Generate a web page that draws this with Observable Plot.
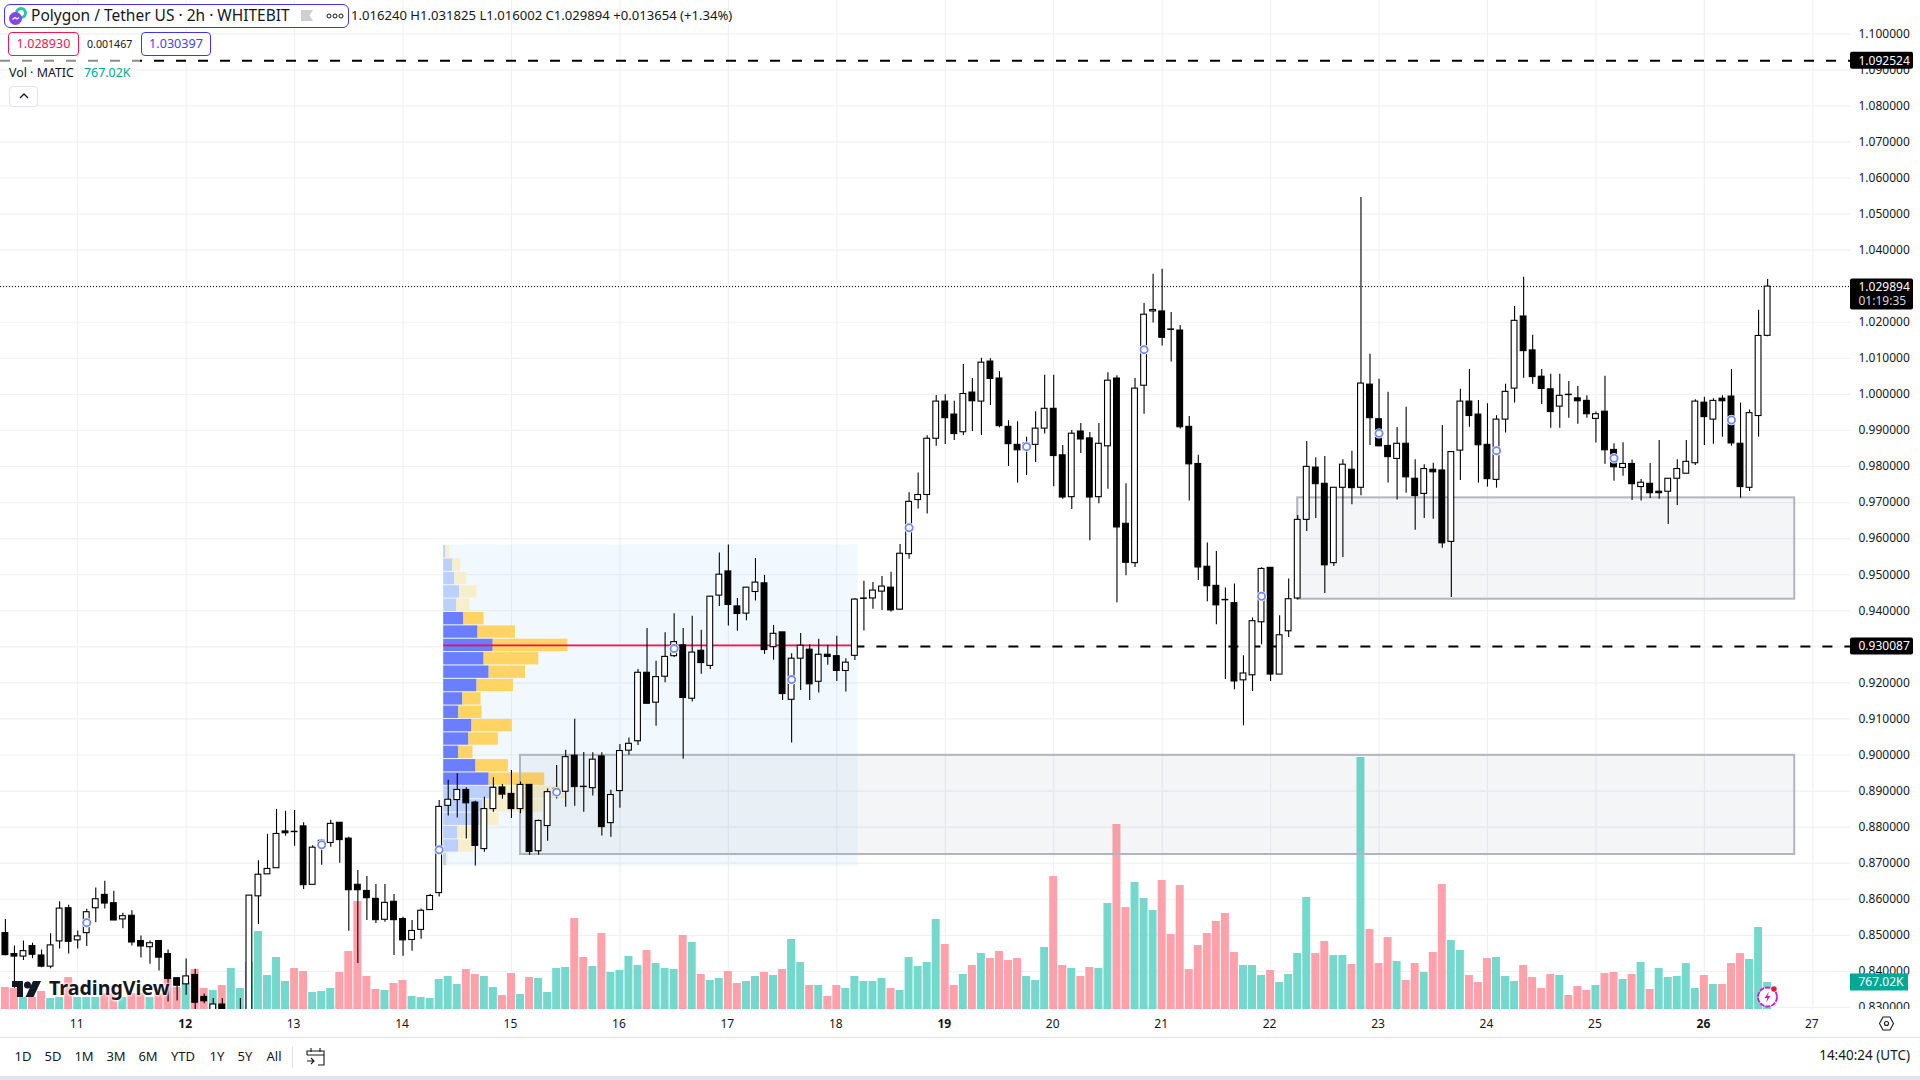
<!DOCTYPE html>
<html><head><meta charset="utf-8">
<script src="https://cdn.jsdelivr.net/npm/d3@7"></script>
<script src="https://cdn.jsdelivr.net/npm/@observablehq/plot@0.6"></script>
<style>
html,body{margin:0;padding:0;background:#fff;overflow:hidden;width:1920px;height:1080px;font-family:"Noto Sans",sans-serif;color:#131722}
#chart{position:absolute;left:0;top:0}
.o{position:absolute;white-space:nowrap;line-height:1}
.b{position:absolute;box-sizing:border-box;border-radius:4px;text-align:center}
</style></head><body>
<div id="chart"></div>
<script>
const highs=[.8544,.8470,.8484,.8478,.8459,.8504,.8593,.8583,.8512,.8572,
.8631,.8650,.8622,.8561,.8568,.8498,.8484,.8484,.8459,.8381,
.8434,.8406,.8337,.8325,.8325,.8260,.8325,.8610,.8707,.8780,
.8849,.8844,.8846,.8812,.8748,.8765,.8819,.8812,.8772,.8680,
.8663,.8641,.8641,.8613,.8550,.8541,.8573,.8613,.8874,.8930,
.8948,.8909,.8872,.8883,.8937,.8918,.8957,.8925,.8918,.8820,
.8906,.8971,.9013,.9099,.9007,.9006,.9006,.8902,.9029,.9047,
.9237,.9351,.9260,.9339,.9392,.9351,.9385,.9346,.9440,.9560,
.9582,.9434,.9465,.9545,.9498,.9359,.9340,.9281,.9337,.9306,
.9321,.9304,.9329,.9267,.9434,.9482,.9478,.9495,.9507,.9584,
.9727,.9782,.9885,.9997,.9999,.9981,1.0083,1.0044,1.0100,1.0099,
1.0063,.9927,.9924,.9881,.9952,1.0053,1.0053,.9858,.9900,.9919,
.9894,.9919,1.0060,1.0052,.9752,1.0044,1.0252,1.0333,1.0347,1.0227,
1.0191,.9939,.9831,.9588,.9564,.9463,.9474,.9275,.9380,.9519,
.9519,.9386,.9488,.9664,.9869,.9824,.9828,.9741,.9819,.9842,
1.0546,1.0111,1.0042,1.0006,.9908,.9964,.9819,.9805,.9809,.9914,
.9840,1.0014,1.0069,.9983,.9974,.9941,1.0028,1.0244,1.0325,1.0164,
1.0069,1.0056,1.0056,1.0036,1.0022,.9996,.9951,1.0050,.9863,.9866,
.9818,.9764,.9808,.9872,.9766,.9819,.9872,.9985,.9992,.9988,
.9996,1.0069,.9976,.9957,1.0233,1.031825];
const bodyTops=[.8506,.8448,.8456,.8470,.8444,.8472,.8574,.8575,.8497,.8564,
.8600,.8612,.8589,.8553,.8554,.8484,.8478,.8484,.8448,.8381,
.8386,.8390,.8329,.8308,.8308,.8240,.8260,.8610,.8668,.8684,
.8781,.8788,.8787,.8802,.8743,.8762,.8809,.8812,.8768,.8640,
.8623,.8601,.8590,.8593,.8545,.8512,.8568,.8609,.8856,.8876,
.8903,.8903,.8868,.8850,.8909,.8910,.8892,.8917,.8917,.8817,
.8897,.8906,.8994,.8998,.8912,.8987,.8996,.8889,.9011,.9031,
.9228,.9228,.9216,.9272,.9313,.9304,.9284,.9289,.9439,.9500,
.9509,.9412,.9464,.9478,.9476,.9336,.9340,.9267,.9303,.9292,
.9278,.9278,.9274,.9256,.9431,.9434,.9456,.9467,.9464,.9558,
.9702,.9721,.9877,.9980,.9980,.9944,1.0001,1.0005,1.0088,1.0091,
1.0044,.9910,.9860,.9864,.9905,.9960,.9960,.9831,.9891,.9897,
.9878,.9863,1.0038,1.0044,.9641,1.0016,1.0221,1.0234,1.0230,1.0180,
1.0177,.9910,.9807,.9522,.9469,.9430,.9421,.9226,.9371,.9516,
.9519,.9332,.9432,.9652,.9799,.9797,.9752,.9741,.9805,.9791,
1.0030,1.0027,.9931,.9857,.9863,.9863,.9766,.9793,.9791,.9789,
.9840,.9980,.9980,.9944,.9860,.9930,1.0007,1.0204,1.0216,1.0122,
1.0049,1.0014,.9996,.9999,.9989,.9982,.9945,.9952,.9846,.9807,
.9807,.9755,.9752,.9730,.9766,.9793,.9813,.9980,.9977,.9982,
.9988,.9994,.9863,.9948,1.0162,1.029894];
const bodyBottoms=[.8445,.8441,.8441,.8446,.8413,.8413,.8483,.8482,.8486,.8506,
.8575,.8588,.8541,.8544,.8480,.8469,.8467,.8438,.8379,.8360,
.8364,.8313,.8317,.8270,.8260,.8210,.8230,.8260,.8608,.8669,
.8686,.8783,.8786,.8639,.8640,.8742,.8756,.8764,.8625,.8625,
.8603,.8542,.8543,.8542,.8486,.8487,.8515,.8570,.8617,.8859,
.8875,.8866,.8748,.8739,.8850,.8890,.8850,.8850,.8731,.8733,
.8803,.8887,.8898,.8911,.8911,.8908,.8800,.8811,.8900,.9012,
.9038,.9142,.9145,.9217,.9274,.9158,.9156,.9255,.9247,.9442,
.9416,.9391,.9392,.9452,.9291,.9299,.9169,.9153,.9267,.9196,
.9203,.9272,.9233,.9233,.9275,.9433,.9434,.9453,.9401,.9403,
.9557,.9707,.9721,.9877,.9934,.9890,.9895,.9981,.9980,1.0043,
.9912,.9862,.9845,.9845,.9860,.9905,.9829,.9714,.9715,.9875,
.9714,.9715,.9856,.9631,.9533,.9532,1.0024,1.0230,1.0157,1.0179,
.9909,.9806,.9520,.9468,.9415,.9429,.9204,.9207,.9221,.9368,
.9223,.9223,.9343,.9434,.9652,.9751,.9526,.9532,.9741,.9740,
.9741,.9934,.9856,.9826,.9821,.9770,.9718,.9724,.9784,.9587,
.9591,.9844,.9940,.9859,.9765,.9763,.9930,1.0016,1.0120,1.0048,
1.0015,.9951,.9966,.9998,.9981,.9945,.9932,.9845,.9798,.9796,
.9751,.9743,.9726,.9726,.9730,.9766,.9780,.9809,.9937,.9930,
.9981,.9864,.9743,.9741,.9940,1.016240];
const lows=[.8443,.8353,.8430,.8435,.8410,.8407,.8462,.8448,.8462,.8469,
.8535,.8573,.8541,.8518,.8470,.8437,.8420,.8401,.8315,.8318,
.8334,.8285,.8310,.8250,.8240,.8200,.8220,.8240,.8530,.8669,
.8686,.8775,.8747,.8627,.8640,.8694,.8744,.8700,.8511,.8422,
.8541,.8533,.8536,.8444,.8442,.8456,.8489,.8570,.8606,.8831,
.8825,.8767,.8692,.8730,.8841,.8877,.8824,.8837,.8722,.8722,
.8761,.8878,.8855,.8858,.8841,.8886,.8775,.8772,.8852,.8999,
.9026,.9142,.9080,.9200,.9270,.8988,.9147,.9224,.9237,.9412,
.9358,.9343,.9372,.9427,.9279,.9263,.9151,.9033,.9179,.9151,
.9172,.9249,.9204,.9175,.9262,.9344,.9404,.9401,.9396,.9403,
.9543,.9682,.9668,.9856,.9861,.9872,.9886,.9897,.9886,.9969,
.9907,.9800,.9754,.9775,.9811,.9890,.9744,.9709,.9681,.9836,
.9594,.9697,.9737,.9422,.9497,.9520,.9945,1.0198,1.0134,1.0090,
.9904,.9704,.9484,.9425,.9361,.9209,.9181,.9081,.9176,.9306,
.9204,.9223,.9326,.9430,.9620,.9656,.9448,.9523,.9548,.9694,
.9719,.9858,.9855,.9754,.9707,.9726,.9623,.9656,.9654,.9573,
.9437,.9761,.9909,.9754,.9743,.9740,.9893,.9976,1.0045,1.0028,
.9972,.9906,.9906,.9934,.9917,.9934,.9865,.9806,.9759,.9773,
.9706,.9704,.9711,.9709,.9639,.9692,.9779,.9803,.9858,.9862,
.9881,.9856,.9712,.9731,.9881,1.016002];
const rising=[0,0,1,0,0,1,1,0,1,1,
1,0,0,1,0,0,1,0,0,0,
1,0,0,1,0,0,1,1,1,1,
1,0,0,0,1,1,1,0,0,0,
0,0,1,0,0,1,1,1,1,1,
1,0,0,1,1,0,0,1,0,1,
1,1,1,0,0,1,0,1,1,1,
1,0,1,1,1,0,1,0,1,1,
0,0,1,1,0,1,0,1,1,0,
1,0,0,1,1,0,1,1,0,1,
1,1,1,1,0,0,1,0,1,0,
0,0,0,1,1,1,0,0,1,0,
0,1,1,0,0,1,1,1,0,0,
0,0,0,0,0,0,0,1,1,1,
0,1,1,1,1,0,0,1,1,0,
1,0,0,0,1,0,0,1,0,0,
1,1,0,0,0,1,1,1,0,0,
0,0,1,0,0,0,1,0,0,1,
0,1,0,0,1,1,1,1,0,1,
0,0,0,1,1,1];
const volumes=[625,596,341,341,511,312,341,909,341,341,
341,454,454,341,454,454,341,454,1136,625,
767,1136,596,540,682,1164,596,1335,2215,966,
1477,795,1164,1079,483,511,596,1051,1647,3067,
937,568,540,738,824,369,341,312,852,937,
710,1136,994,937,625,398,1022,426,909,880,
483,1164,1193,2584,1477,1221,2158,1051,1108,1505,
1250,1676,1306,1164,1136,2102,1903,994,824,880,
1079,738,795,937,1051,966,1136,1988,1335,682,
682,369,682,596,937,795,795,880,596,540,
1477,1221,1335,2556,1846,682,994,1250,1590,1448,
1647,1392,1448,937,824,1761,3777,1250,1164,937,
1193,1164,3010,5254,2897,3607,3152,2812,3664,2130,
3522,1136,1818,2158,2499,2726,1619,1250,1250,966,
1108,767,994,1590,3181,1590,1931,1534,1534,1278,
7157,2272,1306,2045,1363,824,1306,1051,1619,3550,
1960,1676,966,767,1448,1477,937,795,1250,909,
596,994,966,398,653,540,682,1022,1051,852,
994,1335,568,1164,909,937,1306,596,966,710,
710,1306,1590,1420,2329,767.02];
const volumeRising=[0,0,1,0,0,1,1,0,1,1,
1,0,0,1,0,0,1,0,0,0,
1,0,0,1,0,1,1,1,1,1,
1,1,0,0,1,1,1,0,0,0,
0,0,1,0,0,1,1,1,1,1,
1,0,0,1,1,0,0,1,0,1,
1,1,1,0,0,1,0,1,1,1,
1,0,1,1,1,0,1,0,1,1,
0,0,1,1,0,1,0,1,1,0,
1,0,0,1,1,1,1,1,0,1,
1,1,1,1,0,0,1,0,1,0,
0,0,0,1,1,1,0,0,1,0,
0,1,1,0,0,1,1,1,0,0,
0,0,0,0,0,0,0,1,1,1,
0,1,1,1,1,0,0,1,1,0,
1,0,0,0,1,0,0,1,0,0,
1,1,0,0,0,1,1,1,0,0,
0,0,1,0,0,0,1,0,0,1,
0,1,0,1,1,1,1,1,0,1,
0,0,0,1,1,1];
const ringBars=[9,35,48,61,74,87,100,113,126,139,152,165,178,191];
const ringPrices=[.8535,.8751,.8737,.8897,.9295,.9209,.9630,.9855,1.0124,.9440,.9892,.9844,.9823,.9929];
const profileUp=[2,9,11,16,13,20,34,49,40,45,33,19,15,28,25,15,32,45,52,39,36,14,15,3];
const profileDown=[4,8,12,17,13,20,37,74,54,36,36,18,23,40,29,14,32,55,69,59,19,18,15,2];
const profileInValueArea=[0,0,0,0,0,1,1,1,1,1,1,1,1,1,1,1,1,1,0,0,0,0,0,0];
const profileHigh=.9582, profileLow=.8692, pocPrice=.9304;
const profileFirstBar=48.5, profileLastBar=94.35;
const zones=[{a:57,b:198,top:.8999,bottom:.8724},{a:143,b:198,top:.9713,bottom:.9432}];
const priceTicks=[1.10,1.09,1.08,1.07,1.06,1.05,1.04,1.03,1.02,1.01,1.00,.99,.98,.97,.96,.95,.94,.93,.92,.91,.90,.89,.88,.87,.86,.85,.84,.83];
const dayBars=[8,20,32,44,56,68,80,92,104,116,128,140,152,164,176,188,200];
const dayLabels=["11","12","13","14","15","16","17","18","19","20","21","22","23","24","25","26","27"];
const boldDays=["12","19","26"];
const levelHigh=1.092524, levelMid=.930087, lastPrice=1.029894, lastVolume=767.02;
const priceLabels=[{p:levelHigh,t:"1.092524"},{p:levelMid,t:"0.930087"}];

const xMin=-0.542, xMax=204.17, yTop=1.10923, yBottom=.82942;
const volBase=yBottom, priceRangePerK=(yTop-yBottom)/(1009*28.4);
const volPrice=v=>volBase+v*priceRangePerK;

const candles=highs.map((h,i)=>({i,h,l:lows[i],t:bodyTops[i],b:bodyBottoms[i],up:rising[i]}));
const bars=volumes.map((v,i)=>({i,v,up:volumeRising[i]}));
const rowStep=(profileHigh-profileLow)/profileUp.length;
const pocTotal=d3.max(profileUp.map((u,k)=>u+profileDown[k]));
const span=(profileLastBar-profileFirstBar)*0.3;
const rows=profileUp.map((u,k)=>({k,u,d:profileDown[k],v:profileInValueArea[k],
  top:profileHigh-k*rowStep,bot:profileHigh-(k+1)*rowStep,
  x0:profileFirstBar,x1:profileFirstBar+u/pocTotal*span,x2:profileFirstBar+(u+profileDown[k])/pocTotal*span}));
const rings=ringBars.map((b,k)=>({b,p:ringPrices[k]}));
const gridC="#f0f1f4";

const rectV=(f,data)=>Plot.rect(data,{x1:d=>d.i-.44,x2:d=>d.i+.44,y1:()=>volBase,y2:d=>volPrice(d.v),fill:f});
const rowRect=(data,a,b,fill)=>Plot.rect(data,{x1:a,x2:b,y1:"bot",y2:"top",fill,insetTop:.5,insetBottom:.5});

const plot=Plot.plot({
  width:1920,height:1080,marginLeft:0,marginRight:70,marginTop:0,marginBottom:71,
  style:{background:"transparent",fontFamily:"Noto Sans",fontSize:"12px",color:"#131722",maxWidth:"none"},
  x:{type:"linear",domain:[xMin,xMax]},
  y:{type:"linear",domain:[yBottom,yTop]},
  marks:[
    Plot.gridY(priceTicks,{stroke:gridC,strokeOpacity:1,strokeWidth:1.2}),
    Plot.gridX(dayBars,{stroke:gridC,strokeOpacity:1,strokeWidth:1.2}),
    rectV("#74d8cc",bars.filter(d=>d.up)),
    rectV("#ffa1aa",bars.filter(d=>!d.up)),
    Plot.rect([0],{x1:()=>profileFirstBar,x2:()=>profileLastBar,y1:()=>profileLow,y2:()=>profileHigh,fill:"#2196f3",fillOpacity:.06}),
    rowRect(rows.filter(d=>d.v),"x0","x1","#6a7eff"),
    rowRect(rows.filter(d=>d.v),"x1","x2","#ffd465"),
    rowRect(rows.filter(d=>!d.v),"x0","x1","#bcd0ff"),
    rowRect(rows.filter(d=>!d.v),"x1","x2","#f7eecb"),
    Plot.ruleY([pocPrice],{x1:()=>profileFirstBar,x2:()=>profileLastBar,stroke:"#ff0a4a",strokeWidth:1.8}),
    Plot.rect(zones,{x1:"a",x2:"b",y1:"bottom",y2:"top",fill:"#787b90",fillOpacity:.08,stroke:"#b2b5be",strokeWidth:2}),
    Plot.ruleY([levelHigh],{stroke:"#000",strokeWidth:2,strokeDasharray:"10,12"}),
    Plot.ruleY([levelMid],{x1:()=>94,x2:()=>xMax,stroke:"#000",strokeWidth:2,strokeDasharray:"10,12"}),
    Plot.ruleY([lastPrice],{stroke:"#000",strokeWidth:1,strokeDasharray:"1,2"}),
    Plot.ruleX(candles,{x:"i",y1:"l",y2:"h",stroke:"#000",strokeWidth:1.1,clip:true}),
    Plot.rect(candles.filter(d=>d.up),{x1:d=>d.i-.32,x2:d=>d.i+.32,y1:"b",y2:"t",fill:"#fff",stroke:"#000",strokeWidth:1.1,clip:true}),
    Plot.rect(candles.filter(d=>!d.up),{x1:d=>d.i-.32,x2:d=>d.i+.32,y1:"b",y2:"t",fill:"#000",stroke:"#000",strokeWidth:1.1,clip:true}),
    Plot.dot(rings,{x:"b",y:"p",r:5.2,fill:"#fff",stroke:"none"}),
    Plot.dot(rings,{x:"b",y:"p",r:3.6,fill:"#fff",stroke:"#6f88ff",strokeWidth:1.8}),
    Plot.axisY(priceTicks,{anchor:"right",tickSize:0,tickPadding:8,label:null,tickFormat:d=>d.toFixed(6),fill:"#131722",fontSize:12}),
    Plot.rect([0],{x1:()=>xMax,x2:()=>xMax,y1:()=>yBottom,y2:()=>yBottom,insetRight:-70,insetBottom:-12,fill:"#fff"}),
    Plot.axisX(dayBars.filter((b,k)=>!boldDays.includes(dayLabels[k])),{anchor:"bottom",tickSize:0,tickPadding:10,label:null,tickFormat:d=>dayLabels[dayBars.indexOf(d)],fill:"#131722",fontSize:12,dx:-1}),
    Plot.axisX(dayBars.filter((b,k)=>boldDays.includes(dayLabels[k])),{anchor:"bottom",tickSize:0,tickPadding:10,label:null,tickFormat:d=>dayLabels[dayBars.indexOf(d)],fill:"#131722",fontSize:12,fontWeight:"bold",dx:-1}),
    Plot.rect(priceLabels,{x1:()=>xMax,x2:()=>xMax,y1:"p",y2:"p",insetRight:-63,insetTop:-8.5,insetBottom:-8.5,fill:"#000",rx:2}),
    Plot.text(priceLabels,{x:()=>xMax,y:"p",dx:8,text:"t",textAnchor:"start",fill:"#fff",fontSize:12}),
    Plot.rect([lastPrice],{x1:()=>xMax,x2:()=>xMax,y1:d=>d,y2:d=>d,insetRight:-63,insetTop:-7.5,insetBottom:-23.5,fill:"#000",rx:2}),
    Plot.text([lastPrice],{x:()=>xMax,y:d=>d,dx:8,dy:1,text:()=>"1.029894",textAnchor:"start",fill:"#fff",fontSize:12}),
    Plot.text([lastPrice],{x:()=>xMax,y:d=>d,dx:8,dy:15,text:()=>"01:19:35",textAnchor:"start",fill:"#d6d8de",fontSize:12}),
    Plot.rect([lastVolume],{x1:()=>xMax,x2:()=>xMax,y1:d=>volPrice(d),y2:d=>volPrice(d),insetRight:-58,insetTop:-8.5,insetBottom:-8.5,fill:"#00a896"}),
    Plot.text([lastVolume],{x:()=>xMax,y:d=>volPrice(d),dx:8,text:()=>"767.02K",textAnchor:"start",fill:"#fff",fontSize:12})
  ]
});
document.getElementById("chart").appendChild(plot);
</script>

<div class="b" style="left:0;top:58px;width:140px;height:5px;background:rgba(255,255,255,.55);border-radius:0"></div>
<div class="b" style="left:4px;top:4px;width:345px;height:24px;border:1px solid #3d35ff;border-radius:6px;background:#fff"></div>
<svg class="o" style="left:8px;top:6px" width="22" height="22" viewBox="0 0 22 22">
  <circle cx="13" cy="7" r="6" fill="#26c6a6"/><circle cx="13" cy="7" r="3" fill="#fff"/>
  <circle cx="7.5" cy="12.5" r="6.5" fill="#8247e5"/>
  <path d="M4.5 13.5l2.5-2 2 1.5 2-1.5" stroke="#fff" stroke-width="1.2" fill="none"/>
</svg>
<div class="o" style="left:31px;top:8px;font-size:15.5px">Polygon / Tether US · 2h · WHITEBIT</div>
<svg class="o" style="left:300px;top:9px" width="14" height="13"><path d="M1 1h12l-3.5 5.500 3.500 5.500h-12z" fill="#cfcfd2"/></svg>
<svg class="o" style="left:326px;top:12px" width="18" height="8"><g fill="none" stroke="#131722" stroke-width="1"><circle cx="3" cy="4" r="2"/><circle cx="9" cy="4" r="2"/><circle cx="15" cy="4" r="2"/></g></svg>
<div class="o" style="left:351px;top:9px;font-size:13.1px">1.016240 H1.031825 L1.016002 C1.029894 +0.013654 (+1.34%)</div>
<div class="b" style="left:8px;top:32px;width:71px;height:24px;border:1px solid #f7164f;color:#f7164f;font-size:12.6px;line-height:22px;background:#fff">1.028930</div>
<div class="o" style="left:87px;top:39px;font-size:10.6px">0.001467</div>
<div class="b" style="left:141px;top:32px;width:70px;height:24px;border:1px solid #3d35ff;color:#4d3dff;font-size:12.6px;line-height:22px;background:#fff">1.030397</div>
<div class="o" style="left:9px;top:67px;font-size:12.4px">Vol · MATIC</div>
<div class="o" style="left:84px;top:67px;font-size:12.4px;color:#00a896">767.02K</div>
<div class="b" style="left:9px;top:86px;width:29px;height:21px;border:1px solid #e0e3eb;background:#fff"></div>
<svg class="o" style="left:18px;top:91px" width="12" height="10"><path d="M2 7l4-4 4 4" fill="none" stroke="#131722" stroke-width="1.3"/></svg>

<svg class="o" style="left:10px;top:979px" width="36" height="22" viewBox="0 0 36 22"><path d="M2 2h11v16h-6v-10h-5z" fill="#131722"/><circle cx="17.500" cy="6" r="3.500" fill="#131722"/><path d="M23 2h8l-7.500 16h-8z" fill="#131722"/></svg>
<div class="o" style="left:49px;top:978px;font-size:19.6px;font-weight:700;text-shadow:0 0 3px #fff,0 0 3px #fff,0 0 3px #fff">TradingView</div>

<svg class="o" style="left:1755px;top:984px" width="26" height="26" viewBox="0 0 26 26">
  <circle cx="12.500" cy="13" r="9.500" fill="#fff" stroke="#d018c8" stroke-width="1.800" stroke-dasharray="5 1"/>
  <path d="M14 7.500l-4.500 6.500h3l-1.500 4.500 4.500-6.500h-3z" fill="#d018c8"/>
  <circle cx="19" cy="5" r="2.700" fill="#f5123f"/>
</svg>

<svg class="o" style="left:1878px;top:1015px" width="17" height="17" viewBox="0 0 17 17"><path d="M5 2h7l3.500 6.500-3.500 6.500h-7l-3.500-6.500z" fill="none" stroke="#131722" stroke-width="1.100"/><circle cx="8.500" cy="8.500" r="2" fill="none" stroke="#131722" stroke-width="1.100"/></svg>

<div style="position:absolute;left:0;top:1037px;width:1920px;height:1px;background:#e0e3eb"></div>
<div style="position:absolute;left:0;top:1076px;width:1920px;height:4px;background:#e0e3eb"></div>
<div style="position:absolute;left:292px;top:1046px;width:1px;height:22px;background:#e0e3eb"></div>
<svg class="o" style="left:306px;top:1047px" width="20" height="19" viewBox="0 0 20 19"><g fill="none" stroke="#131722" stroke-width="1.100"><path d="M1 8V4h17v14h-6"/><path d="M5 1v4M14 1v4M1 8h17"/><path d="M1 14h7M5 11l3 3-3 3"/></g></svg>
<div id="ranges"></div>
<div class="o" style="right:10px;top:1049px;font-size:13.5px">14:40:24 (UTC)</div>
<script>
const rangeLabels=["1D","5D","1M","3M","6M","YTD","1Y","5Y","All"];
const rangeCenters=[23,53,84,116,148,183,217,245,274];
document.getElementById("ranges").innerHTML=rangeLabels.map((t,k)=>`<div class="o" style="left:${rangeCenters[k]}px;top:1050px;font-size:13px;transform:translateX(-50%)">${t}</div>`).join("");
</script>
</body></html>
